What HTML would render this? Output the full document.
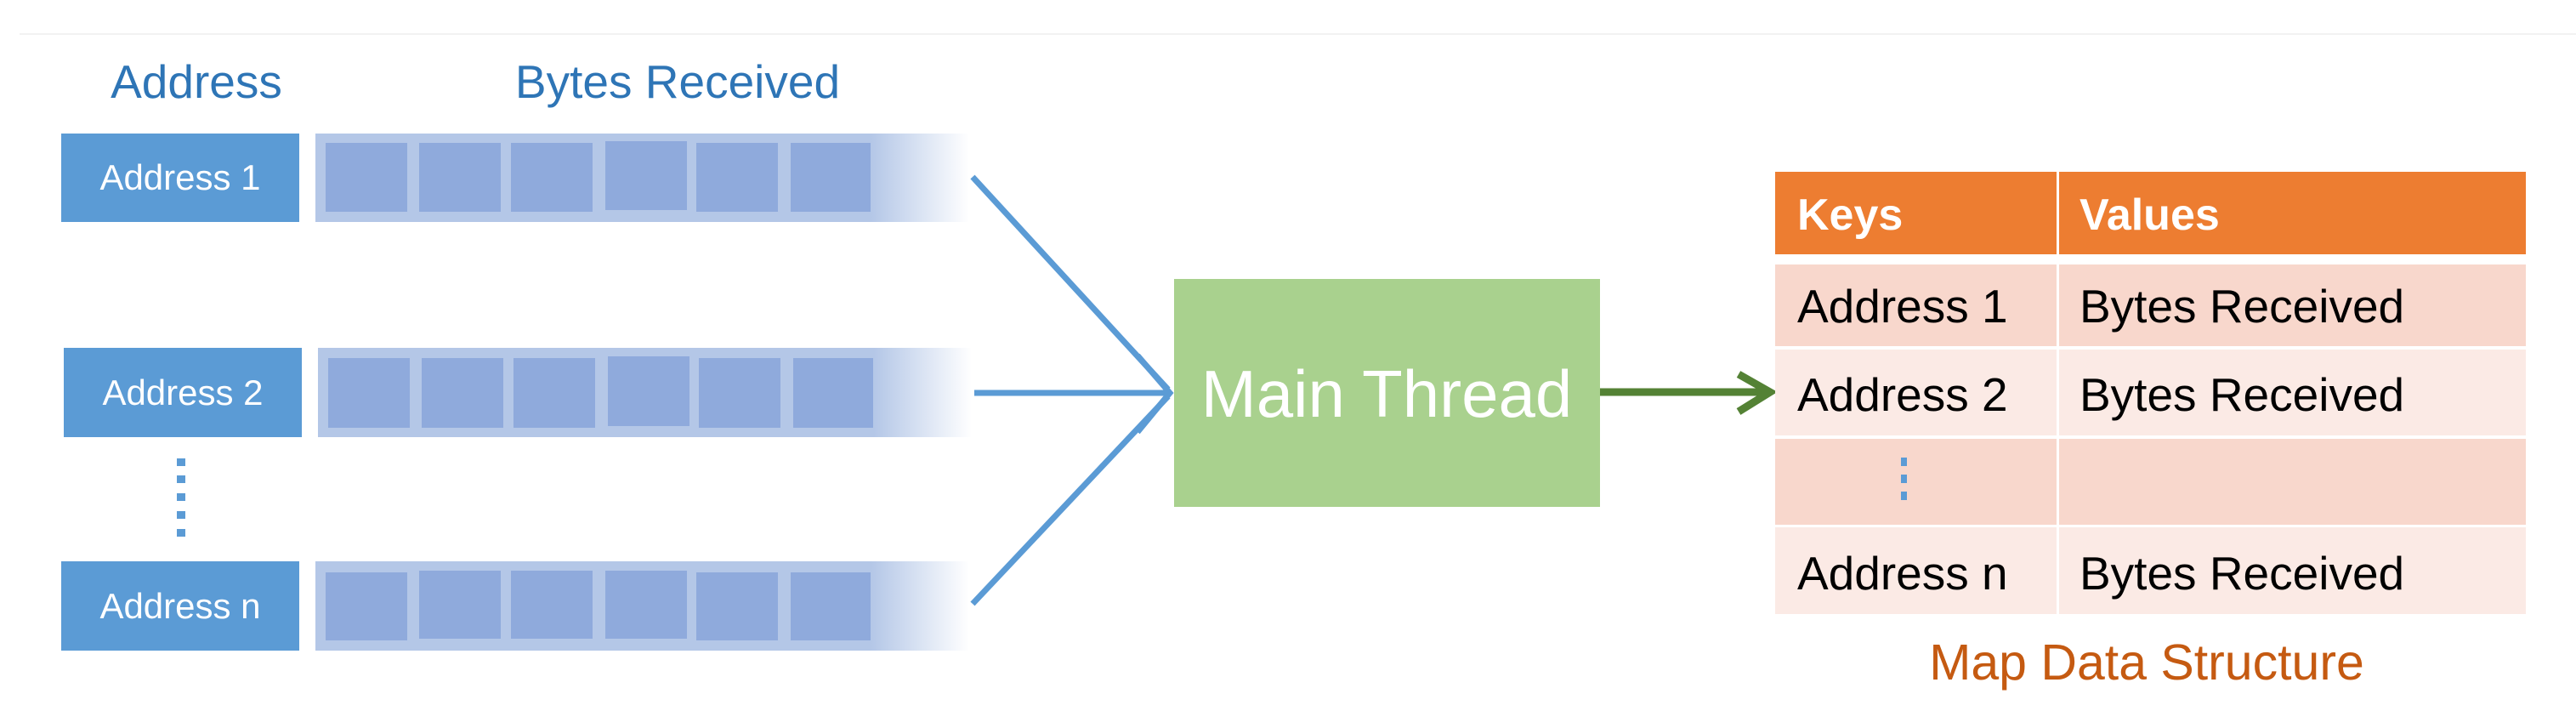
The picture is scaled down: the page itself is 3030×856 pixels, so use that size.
<!DOCTYPE html>
<html><head><meta charset="utf-8"><style>
html,body{margin:0;padding:0;background:#fff;}
svg{display:block;font-family:"Liberation Sans",sans-serif;}
</style></head><body>
<svg width="3030" height="856" viewBox="0 0 3030 856" xmlns="http://www.w3.org/2000/svg">
<defs>
<linearGradient id="fade" x1="0" x2="1" y1="0" y2="0">
<stop offset="0" stop-color="#b4c7e7"/>
<stop offset="0.85" stop-color="#b4c7e7"/>
<stop offset="1" stop-color="#b4c7e7" stop-opacity="0"/>
</linearGradient>
</defs>
<line x1="23" y1="40" x2="3030" y2="40" stroke="#f2f2f2" stroke-width="2"/>
<text x="231" y="115" font-size="55" fill="#2e75b6" text-anchor="middle">Address</text>
<text x="797" y="115" font-size="55" fill="#2e75b6" text-anchor="middle">Bytes Received</text>

<rect x="72" y="157" width="280" height="104" fill="#5b9bd5"/>
<text x="212" y="223" font-size="42" fill="#fff" text-anchor="middle">Address 1</text>
<rect x="371" y="157" width="769" height="104" fill="url(#fade)"/>
<g fill="#8faadc">
<rect x="383" y="168" width="96" height="81"/><rect x="493" y="168" width="96" height="81"/><rect x="601" y="168" width="96" height="81"/><rect x="712" y="166" width="96" height="81"/><rect x="819" y="168" width="96" height="81"/><rect x="930" y="168" width="94" height="81"/>
</g>
<rect x="75" y="409" width="280" height="105" fill="#5b9bd5"/>
<text x="215" y="476" font-size="42" fill="#fff" text-anchor="middle">Address 2</text>
<rect x="374" y="409" width="769" height="105" fill="url(#fade)"/>
<g fill="#8faadc">
<rect x="386" y="421" width="96" height="82"/><rect x="496" y="421" width="96" height="82"/><rect x="604" y="421" width="96" height="82"/><rect x="715" y="419" width="96" height="82"/><rect x="822" y="421" width="96" height="82"/><rect x="933" y="421" width="94" height="82"/>
</g>
<g fill="#5b9bd5">
<rect x="208" y="539" width="10" height="9"/><rect x="208" y="559" width="10" height="9"/><rect x="208" y="580" width="10" height="9"/><rect x="208" y="601" width="10" height="9"/><rect x="208" y="622" width="10" height="9"/>
</g>
<rect x="72" y="660" width="280" height="105" fill="#5b9bd5"/>
<text x="212" y="727" font-size="42" fill="#fff" text-anchor="middle">Address n</text>
<rect x="371" y="660" width="769" height="105" fill="url(#fade)"/>
<g fill="#8faadc">
<rect x="383" y="673" width="96" height="80"/><rect x="493" y="671" width="96" height="80"/><rect x="601" y="671" width="96" height="80"/><rect x="712" y="671" width="96" height="80"/><rect x="819" y="673" width="96" height="80"/><rect x="930" y="673" width="94" height="80"/>
</g>

<g stroke="#5b9bd5" stroke-width="7" fill="none" stroke-linecap="butt">
<line x1="1144" y1="208" x2="1374" y2="458"/>
<line x1="1146" y1="462" x2="1374" y2="462"/>
<line x1="1144" y1="710" x2="1374" y2="466"/>
<polyline points="1338,418 1376,462 1338,508"/>
</g>
<rect x="1381" y="328" width="501" height="268" fill="#a9d18e"/>
<text x="1631" y="490" font-size="78" fill="#fff" text-anchor="middle">Main Thread</text>
<g stroke="#548235" stroke-width="9" fill="none">
<line x1="1882" y1="461" x2="2080" y2="461"/>
<polyline points="2045,440 2082,461 2045,484"/>
</g>

<rect x="2088" y="202" width="883" height="97" fill="#ed7d31"/>
<rect x="2088" y="311" width="883" height="96" fill="#f8d7cc"/>
<rect x="2088" y="411" width="883" height="101" fill="#fbeae5"/>
<rect x="2088" y="516" width="883" height="101" fill="#f8d7cc"/>
<rect x="2088" y="620" width="883" height="102" fill="#fbeae5"/>
<rect x="2419" y="202" width="3" height="520" fill="#fff"/>
<text x="2114" y="270" font-size="52" font-weight="bold" fill="#fff">Keys</text>
<text x="2446" y="270" font-size="52" font-weight="bold" fill="#fff">Values</text>
<g font-size="55" fill="#000">
<text x="2114" y="379">Address 1</text><text x="2446" y="379">Bytes Received</text>
<text x="2114" y="483">Address 2</text><text x="2446" y="483">Bytes Received</text>
<text x="2114" y="693">Address n</text><text x="2446" y="693">Bytes Received</text>
</g>
<g fill="#5b9bd5">
<rect x="2236" y="538" width="7" height="10"/><rect x="2236" y="558" width="7" height="10"/><rect x="2236" y="578" width="7" height="10"/>
</g>
<text x="2525" y="799" font-size="59" fill="#c55a11" text-anchor="middle">Map Data Structure</text>
</svg>
</body></html>
